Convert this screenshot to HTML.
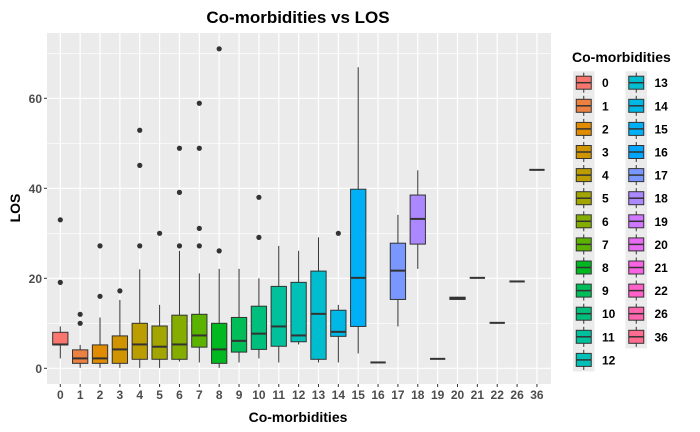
<!DOCTYPE html>
<html><head><meta charset="utf-8">
<style>
html,body{margin:0;padding:0;background:#fff;}
svg{display:block;font-family:"Liberation Sans",Arial,sans-serif;}
</style></head>
<body>
<svg id="chart" width="700" height="432" viewBox="0 0 700 432" xmlns="http://www.w3.org/2000/svg">
<text x="298" y="23" text-anchor="middle" font-size="17" font-weight="bold" fill="#000">Co-morbidities vs LOS</text>
<rect x="47" y="33" width="504" height="351" fill="#ebebeb"/>
<g id="grid"></g>
<g id="boxes"></g>
<g id="yticks"></g>
<g id="xticks"></g>
<text x="298" y="422" text-anchor="middle" font-size="14" font-weight="bold" fill="#000">Co-morbidities</text>
<text transform="translate(20,208) rotate(-90)" text-anchor="middle" font-size="14" font-weight="bold" fill="#000">LOS</text>
<g id="legend">
<text x="572" y="62" font-size="14" font-weight="bold" fill="#000">Co-morbidities</text>
</g>
</svg>
<script>
const categories=["0","1","2","3","4","5","6","7","8","9","10","11","12","13","14","15","16","17","18","19","20","21","22","26","36"];
const q1s=[5.2,1.1,1.1,1.1,2,2,2,4.7,1.1,3.6,4.2,4.9,5.9,2,7.1,9.3,1.3,15.3,27.6,2.1,15.3,20.1,10.1,19.3,44.1];
const medians=[5.3,2.2,2.2,4.2,5.3,4.8,5.3,7.3,4.2,6.1,7.7,9.3,7.3,12.1,8.1,20.1,1.3,21.7,33.2,2.1,15.6,20.1,10.1,19.3,44.1];
const q3s=[8,4.1,5.2,7.2,10,9.4,11.8,12,10,11.3,13.8,18.2,19.1,21.6,12.9,39.8,1.3,27.8,38.5,2.1,15.8,20.1,10.1,19.3,44.1];
const whiskLo=[2.2,0.1,0.1,0.1,0.1,0.1,1.5,1.3,0.1,1.3,2.2,1.3,5.3,1.3,1.3,3.3,1.3,9.3,22.1,2.1,15.3,20.1,10.1,19.3,44.1];
const whiskHi=[9.3,5.2,11.3,15.2,22,14.1,26.1,21.1,22.1,22.1,20,27.2,26.1,29.1,14.1,66.9,1.3,34.1,44,2.1,15.9,20.1,10.1,19.3,44.1];
const outliers=[[33,19.1],[12,10],[16,27.2],[17.2],[27.2,45.1,52.9],[30],[27.2,39.1,48.9],[27.2,31.1,48.9,58.9],[26.1,71],[],[29.1,38],[],[],[],[30],[],[],[],[],[],[],[],[],[],[]];
const yTicks=[0,20,40,60];
const yMinor=[10,30,50,70];

const NS="http://www.w3.org/2000/svg";
const X0=47,X1=551,Y0=384,Y1=33;
const yScale=v=>368.3-v*4.5;
const xScale=i=>60.3+i*19.86;
const BW=15.3;
function mk(tag,attrs,parent){const e=document.createElementNS(NS,tag);for(const k in attrs)e.setAttribute(k,attrs[k]);parent.appendChild(e);return e;}
function hcl(h,c,l){
  const hr=h*Math.PI/180,U=c*Math.cos(hr),V=c*Math.sin(hr);
  const Xn=95.047,Yn=100,Zn=108.883;
  const un=4*Xn/(Xn+15*Yn+3*Zn),vn=9*Yn/(Xn+15*Yn+3*Zn);
  const Y=l>8?Yn*Math.pow((l+16)/116,3):Yn*l/903.3;
  const u=U/(13*l)+un,v=V/(13*l)+vn;
  const X=Y*9*u/(4*v),Z=Y*(12-3*u-20*v)/(4*v);
  const x=X/100,y=Y/100,z=Z/100;
  let r=3.2406*x-1.5372*y-0.4986*z,g=-0.9689*x+1.8758*y+0.0415*z,b=0.0557*x-0.2040*y+1.0570*z;
  const gam=t=>{t=t<=0.0031308?12.92*t:1.055*Math.pow(t,1/2.4)-0.055;return Math.round(Math.max(0,Math.min(1,t))*255);};
  return "rgb("+gam(r)+","+gam(g)+","+gam(b)+")";
}
const colors=categories.map((c,i)=>hcl(15+i*14.4,100,65));

const grid=document.getElementById('grid');
yMinor.forEach(v=>{const l=mk('line',{x1:X0,x2:X1,y1:yScale(v),y2:yScale(v),stroke:'#fff','stroke-width':0.6},grid);

});
yTicks.forEach(v=>{const l=mk('line',{x1:X0,x2:X1,y1:yScale(v),y2:yScale(v),stroke:'#fff','stroke-width':1.2},grid);

});
categories.forEach((c,i)=>{const l=mk('line',{x1:xScale(i),x2:xScale(i),y1:Y1,y2:Y0,stroke:'#fff','stroke-width':1.2},grid);

});

const boxes=document.getElementById('boxes');
categories.forEach((c,i)=>{
  const g=mk('g',{},boxes);
  
  
  const x=xScale(i);
  mk('line',{x1:x,x2:x,y1:yScale(whiskHi[i]),y2:yScale(q3s[i]),stroke:'#333','stroke-width':1},g);
  mk('line',{x1:x,x2:x,y1:yScale(q1s[i]),y2:yScale(whiskLo[i]),stroke:'#333','stroke-width':1},g);
  const top=yScale(q3s[i]),bot=yScale(q1s[i]);
  mk('rect',{x:x-BW/2,y:top,width:BW,height:Math.max(0,bot-top),fill:colors[i],stroke:'#333','stroke-width':1},g);
  mk('line',{x1:x-BW/2,x2:x+BW/2,y1:yScale(medians[i]),y2:yScale(medians[i]),stroke:'#333','stroke-width':2},g);
  outliers[i].forEach(v=>{const p=mk('circle',{cx:x,cy:yScale(v),r:2.6,fill:'#333'},g);
  
  });
});

const yt=document.getElementById('yticks');
yTicks.forEach(v=>{
  mk('line',{x1:X0-3,x2:X0,y1:yScale(v),y2:yScale(v),stroke:'#333','stroke-width':1},yt);
  const t=mk('text',{x:X0-5,y:yScale(v)+4.5,'text-anchor':'end','font-size':12,'font-weight':'bold',fill:'#4d4d4d'},yt);
  t.textContent=v;
  
  
});
const xt=document.getElementById('xticks');
categories.forEach((c,i)=>{
  mk('line',{x1:xScale(i),x2:xScale(i),y1:Y0,y2:Y0+3,stroke:'#333','stroke-width':1},xt);
  const t=mk('text',{x:xScale(i),y:Y0+15,'text-anchor':'middle','font-size':12,'font-weight':'bold',fill:'#4d4d4d'},xt);
  t.textContent=c;
  
  
});

const lg=document.getElementById('legend');
categories.forEach((c,i)=>{
  const col=i<13?0:1,row=i<13?i:i-13;
  const kx=573+col*52.5,cy=82.7+row*23.1;
  const g=mk('g',{},lg);
  
  
  mk('rect',{x:kx,y:cy-11.5,width:21.5,height:23.1,fill:'#ebebeb'},g);
  const cx=kx+10.75;
  mk('line',{x1:cx,x2:cx,y1:cy-10,y2:cy+10,stroke:'#333','stroke-width':1},g);
  mk('rect',{x:cx-7.5,y:cy-6.5,width:15,height:13,fill:colors[i],stroke:'#333','stroke-width':1},g);
  mk('line',{x1:cx-7.5,x2:cx+7.5,y1:cy,y2:cy,stroke:'#333','stroke-width':1.5},g);
  const t=mk('text',{x:kx+29,y:cy+4.5,'font-size':12,'font-weight':'bold',fill:'#000'},g);
  t.textContent=c;
});
</script>
</body></html>
